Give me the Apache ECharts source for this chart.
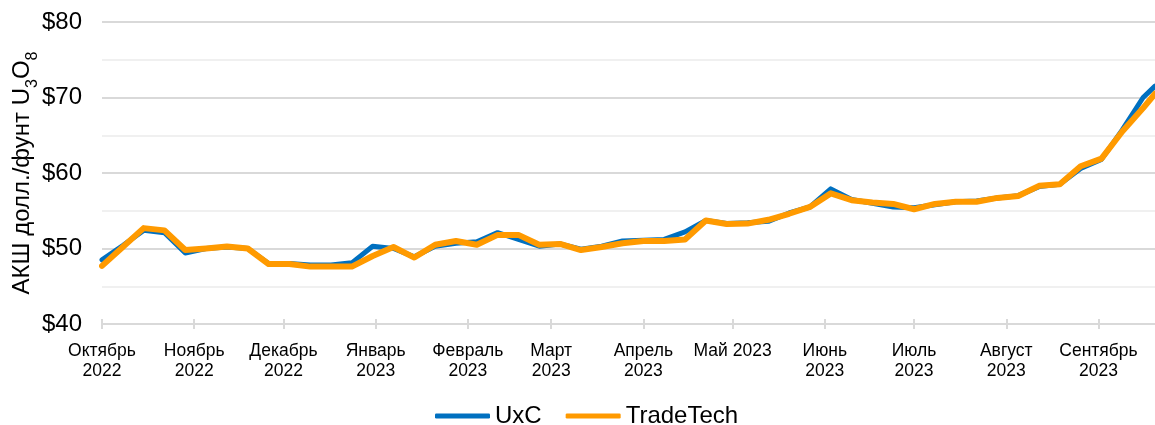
<!DOCTYPE html>
<html><head><meta charset="utf-8">
<script src="https://cdn.jsdelivr.net/npm/echarts@6/dist/echarts.min.js"></script>
<style>html,body{margin:0;padding:0;background:#fff}#chart{width:1155px;height:425px}</style>
</head><body><div id="chart"></div>
<script>
const dates = ['2022-10-01','2022-10-08','2022-10-15','2022-10-22','2022-10-29','2022-11-05','2022-11-12','2022-11-19','2022-11-26',
  '2022-12-03','2022-12-10','2022-12-17','2022-12-24','2022-12-31','2023-01-07','2023-01-14','2023-01-21','2023-01-28',
  '2023-02-04','2023-02-11','2023-02-18','2023-02-25','2023-03-04','2023-03-11','2023-03-18','2023-03-25','2023-04-01',
  '2023-04-08','2023-04-15','2023-04-22','2023-04-29','2023-05-06','2023-05-13','2023-05-20','2023-05-27','2023-06-03',
  '2023-06-10','2023-06-17','2023-06-24','2023-07-01','2023-07-08','2023-07-15','2023-07-22','2023-07-29','2023-08-05',
  '2023-08-12','2023-08-19','2023-08-26','2023-09-02','2023-09-09','2023-09-16','2023-09-20'];
const uxc = [48.5,50.4,52.4,52.1,49.4,50.0,50.2,50.0,48.0,
  48.0,47.8,47.8,48.1,50.3,50.0,48.9,50.3,50.7,
  50.9,52.1,51.2,50.3,50.6,49.9,50.3,51.0,51.1,
  51.2,52.2,53.7,53.3,53.4,53.6,54.7,55.5,57.9,
  56.5,56.0,55.5,55.4,55.8,56.2,56.3,56.7,57.0,
  58.2,58.5,60.6,61.8,65.7,70.0,71.5];
const tradeTech = [47.7,50.2,52.7,52.4,49.8,50.0,50.25,50.0,47.95,
  47.95,47.6,47.6,47.6,49.0,50.2,48.8,50.5,51.0,
  50.5,51.8,51.8,50.5,50.6,49.8,50.2,50.7,51.0,
  51.0,51.2,53.7,53.25,53.3,53.8,54.6,55.5,57.3,
  56.4,56.1,55.9,55.2,55.9,56.2,56.2,56.7,56.95,
  58.3,58.5,60.9,61.9,65.5,68.6,70.5];
const tickDates = ['2022-10-01','2022-11-01','2022-12-01','2023-01-01','2023-02-01','2023-03-01',
  '2023-04-01','2023-05-01','2023-06-01','2023-07-01','2023-08-01','2023-09-01'];
const tickLabels = ['Октябрь\n2022','Ноябрь\n2022','Декабрь\n2022','Январь\n2023','Февраль\n2023','Март\n2023',
  'Апрель\n2023','Май 2023','Июнь\n2023','Июль\n2023','Август\n2023','Сентябрь\n2023'];
const xStart = '2022-10-01', xEnd = '2023-09-20';

const FONT = "'Liberation Sans', Arial, sans-serif";
const DAY = 86400000;
function toDay(s){const p=s.split('-');return Math.round((Date.UTC(+p[0],+p[1]-1,+p[2]) - Date.UTC(2022,9,1))/DAY);}
const tickDays = tickDates.map(toDay);
const labelMap = {};
tickDays.forEach((t,i)=>{labelMap[t]=tickLabels[i];});
const xMin = toDay(xStart), xMax = toDay(xEnd);

const chart = echarts.init(document.getElementById('chart'));
chart.setOption({
  animation:false,
  textStyle:{fontFamily:FONT},
  grid:{left:102,right:0,top:22,bottom:101,containLabel:false,outerBoundsMode:'none'},
  legend:{left:430,top:399,itemWidth:55,itemHeight:5,itemGap:24,icon:'roundRect',
    textStyle:{fontSize:24,color:'#000',fontFamily:FONT},data:['UxC','TradeTech']},
  xAxis:[{type:'value',min:xMin,max:xMax,
    axisLine:{lineStyle:{color:'#d9d9d9',width:2}},
    axisTick:{show:true,length:5,customValues:tickDays,lineStyle:{color:'#d9d9d9',width:2}},
    axisLabel:{customValues:tickDays,formatter:(v)=>labelMap[Math.round(v)]||'',fontSize:17.5,color:'#000',lineHeight:20,margin:17,fontFamily:FONT,hideOverlap:false},
    splitLine:{show:false}},
   {type:'value',min:xMin,max:xMax,position:'bottom',
    axisLine:{show:false},axisLabel:{show:false},
    axisTick:{show:true,inside:true,length:5,customValues:tickDays,lineStyle:{color:'#d9d9d9',width:2}},
    splitLine:{show:false}}],
  yAxis:{type:'value',min:40,max:80,interval:10,
    axisLine:{show:false},axisTick:{show:false},
    axisLabel:{formatter:v=>'$'+v,fontSize:24,color:'#000',margin:20,fontFamily:FONT},
    splitLine:{lineStyle:{color:'#d9d9d9',width:2}},
    minorTick:{show:false,splitNumber:2},
    minorSplitLine:{show:true,lineStyle:{color:'#f0f0f0',width:2}},
    name:'{a|АКШ долл./фунт U}{s|3}{a|O}{s|8}',
    nameLocation:'middle',nameRotate:90,nameGap:61,nameMoveOverlap:false,
    nameTextStyle:{rich:{a:{fontSize:24,color:'#000',fontFamily:FONT},s:{fontSize:16,color:'#000',fontFamily:FONT,padding:[22,0,0,0]}}}},
  series:[
    {name:'UxC',type:'line',data:dates.map((d,i)=>[toDay(d),uxc[i]]),showSymbol:false,symbol:'none',
     itemStyle:{color:'#0070C0'},lineStyle:{color:'#0070C0',width:5,join:'round',cap:'round'}},
    {name:'TradeTech',type:'line',data:dates.map((d,i)=>[toDay(d),tradeTech[i]]),showSymbol:false,symbol:'none',
     itemStyle:{color:'#FF9A00'},lineStyle:{color:'#FF9A00',width:6,join:'round',cap:'round'}}
  ]
});
</script></body></html>
